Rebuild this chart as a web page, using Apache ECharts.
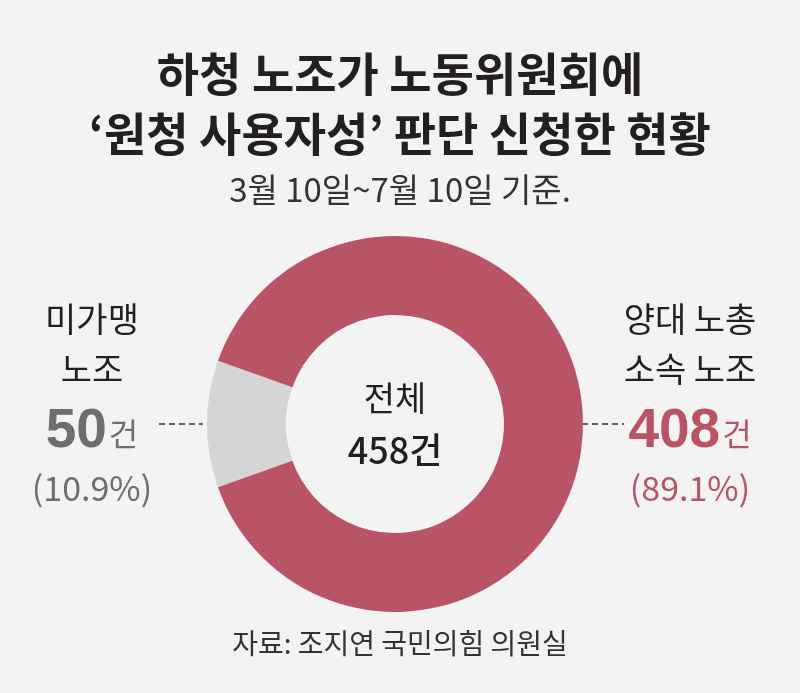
<!DOCTYPE html>
<html>
<head>
<meta charset="utf-8">
<script src="https://cdn.jsdelivr.net/npm/echarts@6/dist/echarts.min.js"></script>
<style>
  html, body { margin: 0; padding: 0; background: #f3f3f3; }
  #chart { width: 800px; height: 693px; }
</style>
</head>
<body>
<div id="chart"></div>
<script>
  // data
  const categories = ['미가맹 노조', '양대 노총 소속 노조'];
  const labelLines = [['미가맹', '노조'], ['양대 노총', '소속 노조']];
  const counts = [50, 408];
  const colors = ['#d5d5d7', '#b95466'];
  const numColors = ['#6d6e71', '#b95466'];

  const total = counts.reduce((a, b) => a + b, 0);
  const pct = counts.map(v => (v / total * 100).toFixed(1) + '%');

  const font = '"Noto Sans CJK KR", "Noto Sans", sans-serif';
  const numFont = '"Liberation Sans", Arial, sans-serif';
  const chart = echarts.init(document.getElementById('chart'));

  // gray slice centred on the left side
  const startAngle = 180 + counts[0] / total * 180;

  function sideLabel(i, cx) {
    return [
      {
        type: 'text', x: cx, y: 294,
        style: { text: labelLines[i].join('\n'), font: '400 34px ' + font, fill: '#231f20', align: 'center', lineHeight: 50 }
      },
      {
        type: 'text', x: cx, y: 432,
        style: {
          text: '{n|' + counts[i] + '}{u|건}',
          align: 'center', verticalAlign: 'middle',
          rich: {
            n: { font: '700 55px ' + numFont, fill: numColors[i], color: numColors[i] },
            u: { font: '400 32px ' + font, fill: numColors[i], color: numColors[i], padding: [4, 0, 0, 2] }
          }
        }
      },
      {
        type: 'text', x: cx, y: 488,
        style: { text: '(' + pct[i] + ')', font: '400 34px ' + font, fill: numColors[i], align: 'center', verticalAlign: 'middle' }
      }
    ];
  }

  const option = {
    backgroundColor: '#f3f3f3',
    title: [
      {
        text: '하청 노조가 노동위원회에\n‘원청 사용자성’ 판단 신청한 현황',
        left: 'center', top: 39,
        textStyle: { fontFamily: font, fontSize: 46, fontWeight: 'bold', color: '#231f20', lineHeight: 60 }
      },
      {
        text: '3월 10일~7월 10일 기준.',
        left: 'center', top: 168,
        textStyle: { fontFamily: font, fontSize: 33, fontWeight: 'normal', color: '#333333' }
      },
      {
        text: '자료: 조지연 국민의힘 의원실',
        left: 'center', top: 624,
        textStyle: { fontFamily: font, fontSize: 28, fontWeight: 'normal', color: '#333333' }
      }
    ],
    series: [{
      type: 'pie',
      center: [395, 424],
      radius: [109, 188],
      startAngle: startAngle,
      clockwise: true,
      silent: true,
      label: { show: false },
      labelLine: { show: false },
      data: categories.map((c, i) => ({ name: c, value: counts[i], itemStyle: { color: colors[i] } }))
    }],
    graphic: [
      {
        type: 'text', x: 395, y: 398,
        style: { text: '전체', font: '400 34px ' + font, fill: '#231f20', align: 'center', verticalAlign: 'middle' }
      },
      {
        type: 'text', x: 395, y: 450,
        style: { text: total + '건', font: '500 36px ' + font, fill: '#231f20', align: 'center', verticalAlign: 'middle' }
      },
      { type: 'line', shape: { x1: 159, y1: 424, x2: 203, y2: 424 }, style: { stroke: '#333', lineWidth: 1.5, lineDash: [6, 4] } },
      { type: 'line', shape: { x1: 582, y1: 424, x2: 624, y2: 424 }, style: { stroke: '#333', lineWidth: 1.5, lineDash: [6, 4] } },
      ...sideLabel(0, 92),
      ...sideLabel(1, 690)
    ]
  };

  chart.setOption(option);
</script>
</body>
</html>
